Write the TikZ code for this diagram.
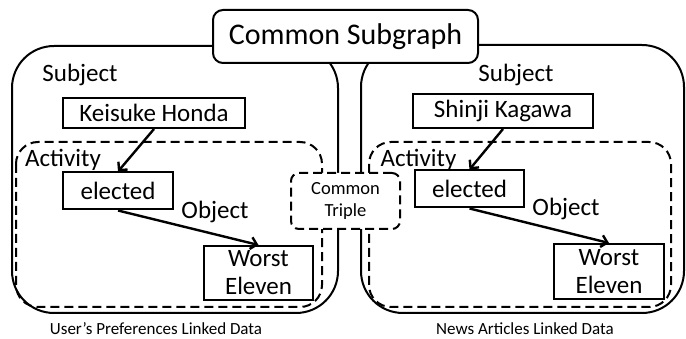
\documentclass[tikz,border=0pt]{standalone}
\usepackage{fontspec}
\setmainfont{Carlito}
\usetikzlibrary{arrows.meta}
\begin{document}
\begin{tikzpicture}[x=1pt,y=-1pt,
  thick line/.style={line width=2pt},
  dashline/.style={line width=2pt, dash pattern=on 9pt off 5pt},
  boxnode/.style={draw, thick line, fill=white, inner sep=0pt, align=center},
  lbl/.style={inner sep=0pt, font=\fontsize{25}{28}\selectfont},
  captext/.style={inner sep=0pt, font=\fontsize{17}{20}\selectfont},
  arr/.style={line width=2.4pt, -{Straight Barb[length=6pt,width=12pt]}}]
\useasboundingbox (0,0) rectangle (686,339);
% big regions
\draw[thick line, rounded corners=42pt] (12,46) rectangle (338,313);
\draw[thick line, rounded corners=42pt] (361,45) rectangle (684,313);
% dashed activity regions
\draw[dashline, rounded corners=22pt] (16,142) rectangle (322,307);
\draw[dashline, rounded corners=22pt] (369,142) rectangle (671,307);
% common triple
\node[boxnode, dashline, rounded corners=8pt, minimum width=109pt, minimum height=56pt,
  font=\fontsize{18.5}{22}\selectfont] (ct) at (345.5,201) {Common\\Triple};
% common subgraph
\node[boxnode, rounded corners=10pt, minimum width=265pt, minimum height=53pt,
  font=\fontsize{30}{34}\selectfont] (cs) at (345.5,36.5) {Common Subgraph};
% left side
\node[lbl] (subjL) at (80,75) {Subject};
\node[boxnode, minimum width=182pt, minimum height=30pt, font=\fontsize{25}{28}\selectfont] (kh) at (154,113) {Keisuke Honda};
\node[lbl] (actL) at (63,160) {Activity};
\node[boxnode, minimum width=110pt, minimum height=37pt, font=\fontsize{25}{28}\selectfont] (elL) at (118,191) {elected};
\node[lbl] (objL) at (215,212) {Object};
\node[boxnode, minimum width=109pt, minimum height=54pt, font=\fontsize{25}{28}\selectfont] (weL) at (258.5,273) {Worst\\Eleven};
\draw[arr] (kh.south) -- (elL.north);
\draw[arr] (elL.south) -- (weL.north);
\node[captext] (capL) at (156,329) {User’s Preferences Linked Data};
% right side
\node[lbl] (subjR) at (516,75) {Subject};
\node[boxnode, minimum width=180pt, minimum height=34pt, font=\fontsize{25}{28}\selectfont] (sk) at (503,111) {Shinji Kagawa};
\node[lbl] (actR) at (418.5,160) {Activity};
\node[boxnode, minimum width=109pt, minimum height=37pt, font=\fontsize{25}{28}\selectfont] (elR) at (469.5,189) {elected};
\node[lbl] (objR) at (566,209) {Object};
\node[boxnode, minimum width=110pt, minimum height=55pt, font=\fontsize{25}{28}\selectfont] (weR) at (609,271.5) {Worst\\Eleven};
\draw[arr] (sk.south) -- (elR.north);
\draw[arr] (elR.south) -- (weR.north);
\node[captext] (capR) at (525,329) {News Articles Linked Data};
\end{tikzpicture}
\end{document}
